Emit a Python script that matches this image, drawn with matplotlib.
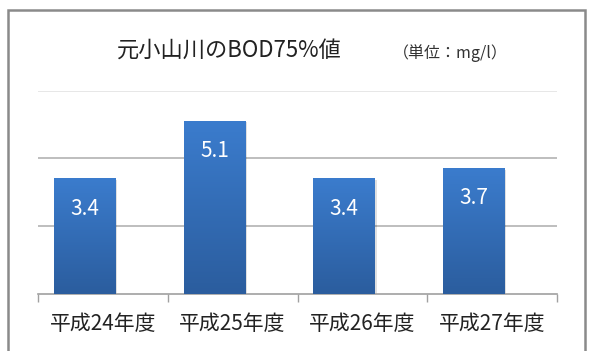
import matplotlib
matplotlib.use("Agg")
import matplotlib.pyplot as plt
import numpy as np
from matplotlib.colors import LinearSegmentedColormap
from matplotlib.patches import Rectangle

plt.rcParams['font.family'] = ['Noto Sans CJK JP', 'DejaVu Sans']

years = ['平成24年度', '平成25年度', '平成26年度', '平成27年度']
bod75 = [3.4, 5.1, 3.4, 3.7]
title = '元小山川のBOD75%値'
unit = '（単位：mg/l）'

fig = plt.figure(figsize=(5.93, 3.51), dpi=100)
ax = fig.add_axes([38 / 593, 1 - 294 / 351, 519 / 593, (294 - 90.6) / 351])

x = np.arange(len(years))
offset = -0.14
width = 0.475
bars = ax.bar(x + offset, bod75, width=width, color='none', zorder=3)

cmap = LinearSegmentedColormap.from_list('b', ['#2b5d9e', '#3b7ccd'])
grad = np.linspace(0, 1, 256).reshape(-1, 1)
for b in bars:
    x0, y0 = b.get_x(), b.get_y()
    w, h = b.get_width(), b.get_height()
    # soft shadow
    ax.add_patch(Rectangle((x0 + 0.012, y0), w, h - 0.03, color='#000000',
                           alpha=0.12, zorder=2, lw=0))
    ax.imshow(grad, extent=(x0, x0 + w, y0, y0 + h), origin='lower',
              cmap=cmap, aspect='auto', zorder=3)
    ax.text(x0 + w / 2, y0 + h - 0.88, f'{h:.1f}', ha='center', va='center',
            color='white', fontsize=15, zorder=4)

ax.set_xlim(-0.5, len(years) - 0.5)
ax.set_ylim(0, 6)
ax.set_yticks([])
for g, c in [(2, '#b3b3b3'), (4, '#b3b3b3'), (6, '#e3e3e3')]:
    ax.axhline(g, color=c, lw=1.2, zorder=1)

ax.set_xticks(x)
ax.set_xticklabels(years, fontsize=15, color='#222222')
ax.tick_params(axis='x', length=0, pad=14)
ax.set_xticks(np.arange(-0.5, len(years)), minor=True)
ax.tick_params(axis='x', which='minor', length=6, color='#a0a0a0', width=1)
for s in ['top', 'right', 'left']:
    ax.spines[s].set_visible(False)
ax.spines['bottom'].set_color('#a0a0a0')
ax.spines['bottom'].set_linewidth(1.2)

fig.text(229 / 593, 1 - 50 / 351, title, ha='center', va='center',
         fontsize=16, color='#222222')
fig.text(450 / 593, 1 - 53 / 351, unit, ha='center', va='center',
         fontsize=11.5, color='#333333')

fig.patches.append(Rectangle((8 / 593, -0.05), 577 / 593, 1.05 - 10 / 351,
                             transform=fig.transFigure, fill=False,
                             edgecolor='#8a8a8a', lw=1.8))

fig.savefig('out.png', dpi=100)
